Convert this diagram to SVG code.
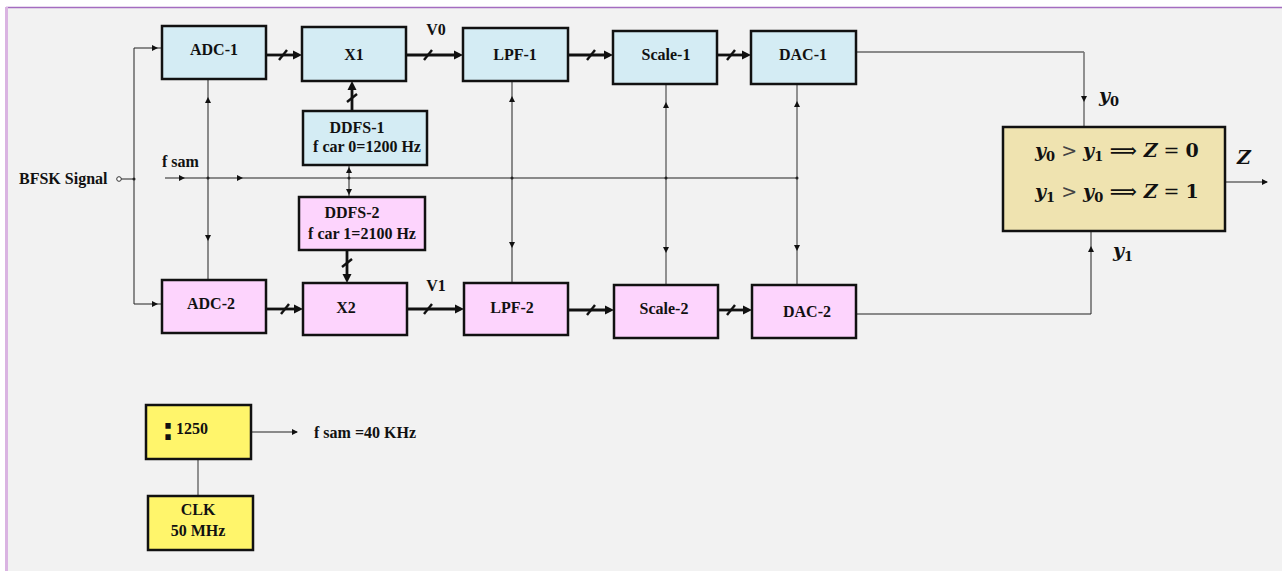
<svg xmlns="http://www.w3.org/2000/svg" xmlns:xlink="http://www.w3.org/1999/xlink" width="1282" height="571" viewBox="0 0 1282 571">
<style>
.box{stroke:#111;stroke-width:2.5}
.blue{fill:#d4ecf4}
.pink{fill:#fdd4fd}
.yel{fill:#fff56b}
.tan{fill:#efe3b0}
.t{font-family:"Liberation Serif","Times New Roman",serif;font-weight:bold;font-size:16px;fill:#111;text-anchor:middle}
.tl{font-family:"Liberation Serif","Times New Roman",serif;font-weight:bold;font-size:16px;fill:#111}
.eq{font-family:"DejaVu Serif","Liberation Serif",serif;font-weight:bold;font-size:19px;fill:#111}
.thin{stroke:#222;stroke-width:1;fill:none}
.gray{stroke:#777;stroke-width:1.6;fill:none}
.bus{stroke:#111;stroke-width:2.8;fill:none}
.sl{stroke:#111;stroke-width:2.4}
.ah{fill:#111}
</style>
<defs>
<path id="a" d="M0,0 L-6,-3 L-6,3 Z"/>
<path id="b" d="M0,0 L-9,-4.5 L-9,4.5 Z"/>
</defs>
<rect x="0" y="0" width="1282" height="571" fill="#ffffff"/>
<rect x="6" y="7" width="1276" height="564" fill="#f2f2f2"/>
<line x1="6" y1="7.5" x2="1282" y2="7.5" stroke="#a46cc0" stroke-width="1.5"/>
<line x1="6.5" y1="7" x2="6.5" y2="571" stroke="#dab4e2" stroke-width="3"/>

<g id="connectors">
  <circle cx="119" cy="179" r="2.3" fill="#fff" stroke="#333" stroke-width="1"/>
  <line class="thin" x1="121.3" y1="179" x2="134" y2="179"/>
  <polyline class="thin" points="162,48 134,48 134,304 162,304"/>
  <use href="#a" class="ah" transform="translate(158,48)"/>
  <use href="#a" class="ah" transform="translate(158,304)"/>
  <circle cx="134" cy="179" r="1.5" fill="#222"/>
  <line class="thin" x1="165" y1="178" x2="797" y2="178"/>
  <use href="#a" class="ah" transform="translate(185,178)"/>
  <use href="#a" class="ah" transform="translate(243,178)"/>
  <line class="thin" x1="208" y1="79" x2="208" y2="280"/>
  <use href="#a" class="ah" transform="translate(208,97) rotate(-90)"/>
  <use href="#a" class="ah" transform="translate(208,241) rotate(90)"/>
  <line class="thin" x1="349" y1="165" x2="349" y2="197"/>
  <use href="#a" class="ah" transform="translate(349,167) rotate(-90)"/>
  <use href="#a" class="ah" transform="translate(349,195) rotate(90)"/>
  <line class="thin" x1="512" y1="81" x2="512" y2="283"/>
  <use href="#a" class="ah" transform="translate(512,96) rotate(-90)"/>
  <use href="#a" class="ah" transform="translate(512,248) rotate(90)"/>
  <line class="gray" x1="666" y1="84" x2="666" y2="285"/>
  <use href="#a" class="ah" transform="translate(666,102) rotate(-90)"/>
  <use href="#a" class="ah" transform="translate(666,253) rotate(90)"/>
  <line class="gray" x1="797" y1="84" x2="797" y2="285"/>
  <use href="#a" class="ah" transform="translate(797,101) rotate(-90)"/>
  <use href="#a" class="ah" transform="translate(797,251) rotate(90)"/>
  <circle cx="208" cy="178" r="1.5" fill="#222"/>
  <circle cx="349" cy="178" r="1.5" fill="#222"/>
  <circle cx="512" cy="178" r="1.5" fill="#222"/>
  <circle cx="666" cy="178" r="1.5" fill="#222"/>
  <circle cx="797" cy="178" r="1.5" fill="#222"/>
  <polyline class="thin" points="856,52 1084,52"/>
  <line class="gray" x1="1084" y1="52" x2="1084" y2="127"/>
  <use href="#a" class="ah" transform="translate(1084,102) rotate(90)"/>
  <polyline class="thin" points="856,314 1091,314 1091,231"/>
  <use href="#a" class="ah" transform="translate(1091,246) rotate(-90)"/>
  <line class="thin" x1="1225" y1="182" x2="1267" y2="182"/>
  <use href="#a" class="ah" transform="translate(1268,182)"/>
  <line class="thin" x1="251" y1="432" x2="297" y2="432"/>
  <use href="#a" class="ah" transform="translate(298,432)"/>
  <line class="gray" x1="198" y1="459" x2="198" y2="496"/>
  <line class="bus" x1="266" y1="55" x2="296" y2="55"/><line class="sl" x1="279" y1="60" x2="287" y2="50"/><use href="#b" class="ah" transform="translate(302,55)"/>
  <line class="bus" x1="406" y1="55" x2="457" y2="55"/><line class="sl" x1="424" y1="60" x2="432" y2="50"/><use href="#b" class="ah" transform="translate(463,55)"/>
  <line class="bus" x1="568" y1="55" x2="607" y2="55"/><line class="sl" x1="587" y1="60" x2="595" y2="50"/><use href="#b" class="ah" transform="translate(613,55)"/>
  <line class="bus" x1="717" y1="55" x2="745" y2="55"/><line class="sl" x1="727" y1="60" x2="735" y2="50"/><use href="#b" class="ah" transform="translate(751,55)"/>
  <line class="bus" x1="352" y1="111" x2="352" y2="87"/><line class="sl" x1="347" y1="102" x2="357" y2="94"/><use href="#b" class="ah" transform="translate(352,81) rotate(-90)"/>
  <line class="bus" x1="347" y1="250" x2="347" y2="277"/><line class="sl" x1="342" y1="267" x2="352" y2="259"/><use href="#b" class="ah" transform="translate(347,283) rotate(90)"/>
  <line class="bus" x1="266" y1="309" x2="297" y2="309"/><line class="sl" x1="281" y1="314" x2="289" y2="304"/><use href="#b" class="ah" transform="translate(303,309)"/>
  <line class="bus" x1="407" y1="309" x2="458" y2="309"/><line class="sl" x1="424" y1="314" x2="432" y2="304"/><use href="#b" class="ah" transform="translate(464,309)"/>
  <line class="bus" x1="568" y1="310" x2="608" y2="310"/><line class="sl" x1="587" y1="315" x2="595" y2="305"/><use href="#b" class="ah" transform="translate(614,310)"/>
  <line class="bus" x1="718" y1="310" x2="746" y2="310"/><line class="sl" x1="727" y1="315" x2="735" y2="305"/><use href="#b" class="ah" transform="translate(752,310)"/>
</g>

<g id="labels">
  <text class="tl" x="19" y="184">BFSK Signal</text>
  <text class="tl" x="162" y="167">f sam</text>
  <text class="t" x="436" y="35">V0</text>
  <text class="t" x="436" y="291">V1</text>
  <text class="eq" x="1099" y="102" font-style="italic">y<tspan font-size="13" dy="4" font-style="normal">0</tspan></text>
  <text class="eq" x="1113" y="257" font-style="italic">y<tspan font-size="13" dy="4" font-style="normal">1</tspan></text>
  <text class="eq" x="1237" y="164" font-style="italic">Z</text>
  <text class="tl" x="314" y="438">f sam =40 KHz</text>
</g>

<g id="adc1"><rect class="box blue" x="162" y="26" width="104" height="53"/><text class="t" x="214" y="55">ADC-1</text></g>
<g id="x1"><rect class="box blue" x="302" y="27" width="104" height="54"/><text class="t" x="354" y="60">X1</text></g>
<g id="ddfs1"><rect class="box blue" x="303" y="111" width="124" height="54"/><text class="t" x="357" y="133">DDFS-1</text><text class="t" x="367" y="152">f car 0=1200 Hz</text></g>
<g id="lpf1"><rect class="box blue" x="463" y="28" width="105" height="53"/><text class="t" x="515" y="60">LPF-1</text></g>
<g id="scale1"><rect class="box blue" x="613" y="31" width="104" height="53"/><text class="t" x="666" y="60">Scale-1</text></g>
<g id="dac1"><rect class="box blue" x="751" y="31" width="105" height="53"/><text class="t" x="803" y="60">DAC-1</text></g>

<g id="ddfs2"><rect class="box pink" x="299" y="197" width="126" height="53"/><text class="t" x="352" y="218">DDFS-2</text><text class="t" x="362" y="239">f car 1=2100 Hz</text></g>
<g id="adc2"><rect class="box pink" x="162" y="280" width="104" height="53"/><text class="t" x="211" y="309">ADC-2</text></g>
<g id="x2"><rect class="box pink" x="303" y="283" width="104" height="52"/><text class="t" x="346" y="313">X2</text></g>
<g id="lpf2"><rect class="box pink" x="464" y="283" width="104" height="52"/><text class="t" x="512" y="313">LPF-2</text></g>
<g id="scale2"><rect class="box pink" x="614" y="285" width="104" height="53"/><text class="t" x="664" y="314">Scale-2</text></g>
<g id="dac2"><rect class="box pink" x="752" y="285" width="104" height="53"/><text class="t" x="807" y="317">DAC-2</text></g>

<g id="decision"><rect class="box tan" x="1003" y="127" width="222" height="104"/>
  <text class="eq" x="1035" y="157"><tspan font-style="italic">y</tspan><tspan font-size="13" dy="4">0</tspan><tspan dy="-4" font-weight="normal" fill="#444"> &gt; </tspan><tspan font-style="italic">y</tspan><tspan font-size="13" dy="4">1</tspan><tspan dy="-4"> ⟹ </tspan><tspan font-style="italic">Z</tspan><tspan font-weight="normal"> = </tspan><tspan>0</tspan></text>
  <text class="eq" x="1035" y="198"><tspan font-style="italic">y</tspan><tspan font-size="13" dy="4">1</tspan><tspan dy="-4" font-weight="normal" fill="#444"> &gt; </tspan><tspan font-style="italic">y</tspan><tspan font-size="13" dy="4">0</tspan><tspan dy="-4"> ⟹ </tspan><tspan font-style="italic">Z</tspan><tspan font-weight="normal"> = </tspan><tspan>1</tspan></text>
</g>

<g id="divider"><rect class="box yel" x="146" y="405" width="105" height="54"/><text x="162" y="440" font-family="DejaVu Sans,sans-serif" font-weight="bold" font-size="30" fill="#111">:</text><text class="tl" x="176" y="434">1250</text></g>
<g id="clk"><rect class="box yel" x="148" y="496" width="105" height="54"/><text class="t" x="198" y="515">CLK</text><text class="t" x="198" y="536">50 MHz</text></g>
</svg>
